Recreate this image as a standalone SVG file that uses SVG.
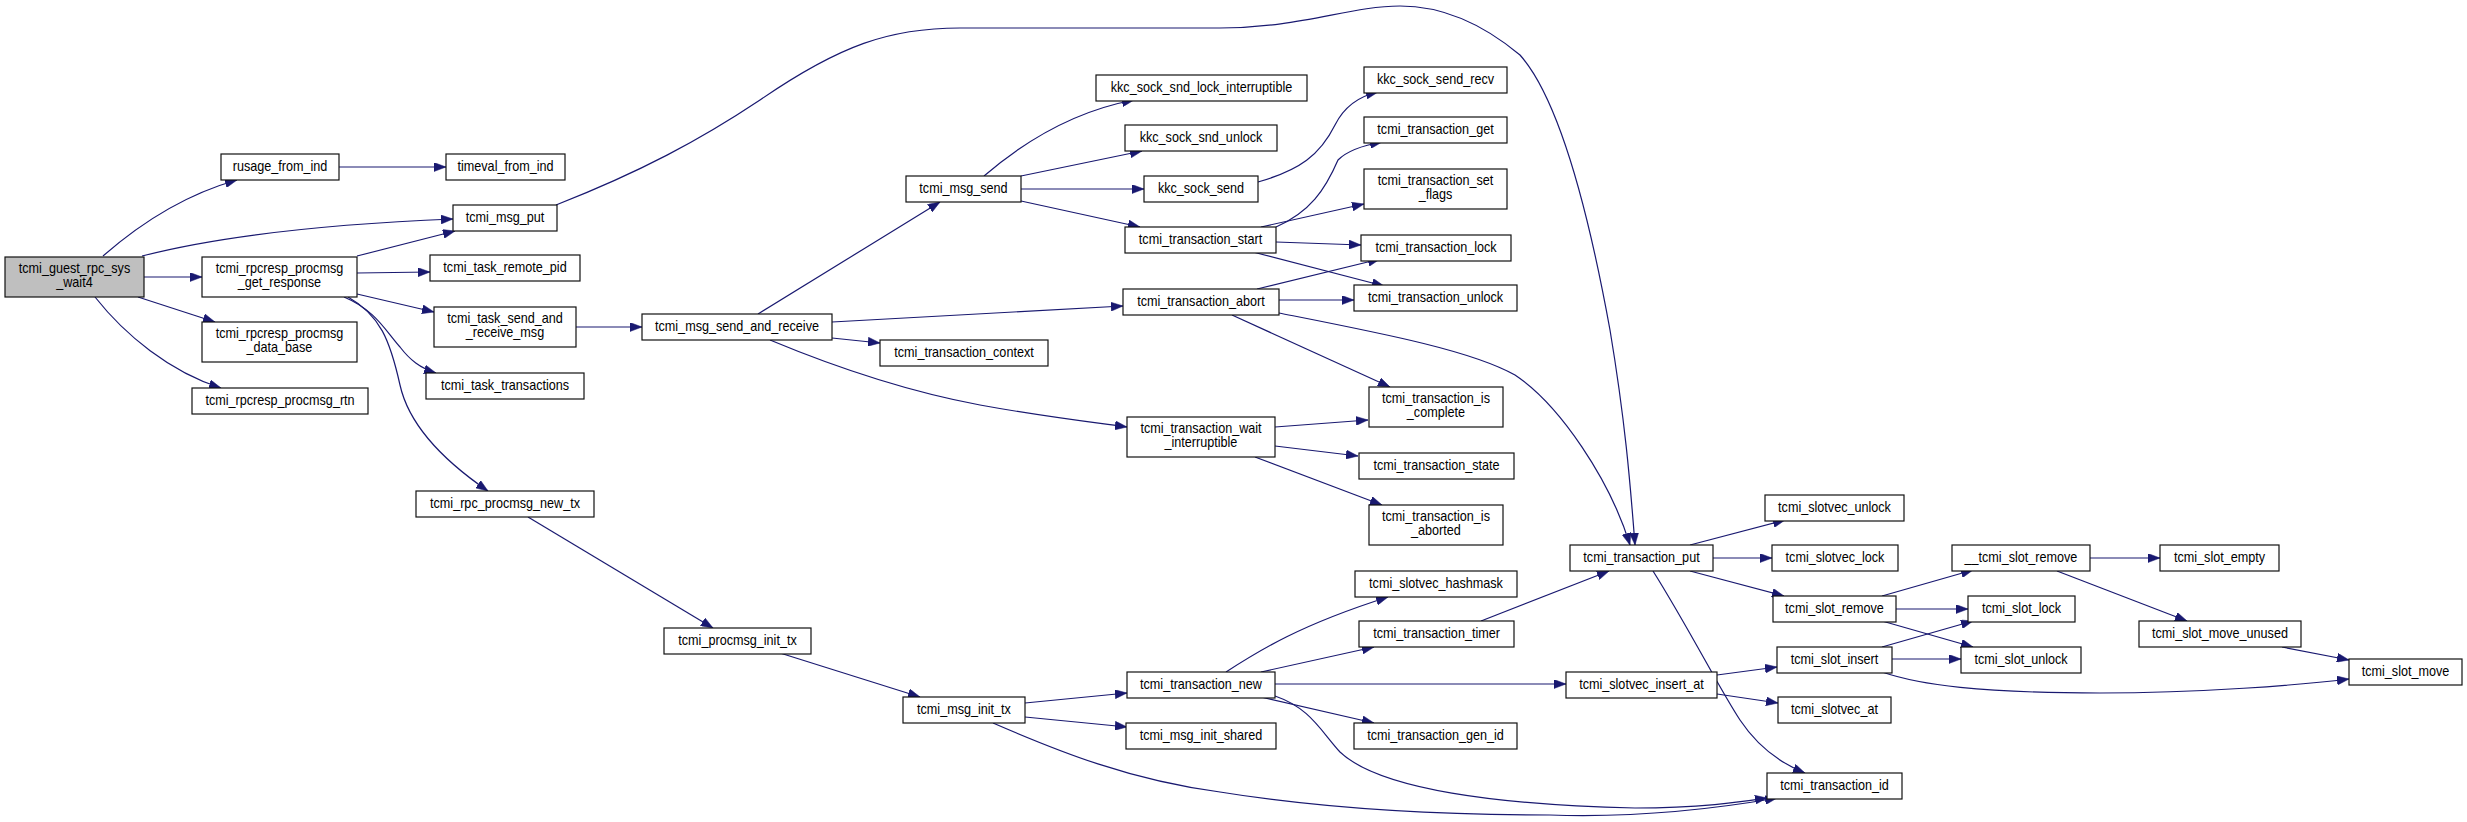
<svg xmlns="http://www.w3.org/2000/svg" width="2467" height="822" viewBox="0 0 2467 822">
<defs>
<style>
.n rect{fill:#fff;stroke:#111;stroke-width:1.2}
.m rect{fill:#bfbfbf}
text{font-family:"Liberation Sans",Arial,sans-serif;font-size:14.5px;text-anchor:middle;fill:#000;transform-box:fill-box;transform-origin:center;transform:scaleX(0.87)}
.e path{fill:none;stroke:#191970;stroke-width:1.2;marker-end:url(#a)}
</style>
<marker id="a" markerUnits="userSpaceOnUse" markerWidth="12" markerHeight="9" refX="12" refY="4.5" orient="auto"><path d="M0,0 L12,4.5 L0,9 z" fill="#191970" stroke="#191970" stroke-width="0.5"/></marker>
</defs>
<rect width="2467" height="822" fill="#fff"/>
<g id="edges" class="e">
<path d="M103,256 C135,228 180,196 237,180"/>
<path d="M339,167 L446,167"/>
<path d="M142,256 C220,236 330,224 453,219"/>
<path d="M144,277 L202,277"/>
<path d="M138,297 L215,322"/>
<path d="M95,297 C125,335 170,372 221,388"/>
<path d="M357,256 L455,231"/>
<path d="M357,273 L430,272"/>
<path d="M357,294 L434,312"/>
<path d="M344,297 C375,310 385,330 400,347 C410,360 420,368 436,373"/>
<path d="M348,297 C380,315 390,340 400,385 C410,430 450,465 488,491"/>
<path d="M556,205 C640,172 700,140 760,100 C840,45 890,28 960,28 L1220,28 C1300,28 1350,6 1400,6 C1450,6 1490,30 1520,55 C1560,100 1590,220 1610,330 C1625,420 1630,480 1635,545"/>
<path d="M576,327 L642,327"/>
<path d="M758,314 L940,202"/>
<path d="M832,322 L1123,306"/>
<path d="M832,338 L880,343"/>
<path d="M770,340 C830,365 900,390 980,405 C1040,416 1090,422 1127,427"/>
<path d="M984,176 C1020,145 1070,112 1134,100"/>
<path d="M1021,176 L1142,151"/>
<path d="M1021,189 L1144,189"/>
<path d="M1021,201 L1140,227"/>
<path d="M1258,182 C1300,170 1320,155 1335,125 C1345,105 1360,96 1378,92"/>
<path d="M1276,227 C1310,212 1325,190 1338,160 C1348,150 1365,145 1382,142"/>
<path d="M1261,227 L1364,204"/>
<path d="M1276,242 L1361,245"/>
<path d="M1253,252 L1384,286"/>
<path d="M1257,289 L1380,259"/>
<path d="M1279,300 L1354,300"/>
<path d="M1232,315 L1390,387"/>
<path d="M1279,313 C1380,333 1470,350 1515,375 C1560,405 1610,480 1630,545"/>
<path d="M1275,427 L1368,420"/>
<path d="M1275,446 L1358,456"/>
<path d="M1255,457 L1382,505"/>
<path d="M528,517 L713,628"/>
<path d="M780,653 L920,697"/>
<path d="M1025,703 L1127,693"/>
<path d="M1025,717 L1127,727"/>
<path d="M993,723 C1060,752 1130,780 1220,792 C1300,805 1400,815 1550,815 C1640,818 1720,808 1777,798"/>
<path d="M1226,672 C1260,650 1300,625 1388,597"/>
<path d="M1261,672 L1374,647"/>
<path d="M1275,684 L1566,684"/>
<path d="M1261,697 L1374,723"/>
<path d="M1275,696 C1310,708 1320,730 1340,752 C1380,790 1500,805 1635,808 C1700,808 1740,802 1767,798"/>
<path d="M1481,621 L1609,571"/>
<path d="M1690,545 L1785,520"/>
<path d="M1713,558 L1772,558"/>
<path d="M1690,571 L1784,596"/>
<path d="M1653,571 C1690,630 1720,690 1740,720 C1760,750 1785,765 1805,773"/>
<path d="M1717,675 L1777,667"/>
<path d="M1717,694 L1778,703"/>
<path d="M1882,596 L1973,570"/>
<path d="M1896,609 L1968,609"/>
<path d="M1882,621 L1973,647"/>
<path d="M1882,647 L1973,621"/>
<path d="M1892,659 L1961,659"/>
<path d="M1882,672 C1920,685 1980,693 2100,693 C2200,693 2300,685 2349,679"/>
<path d="M2090,558 L2160,558"/>
<path d="M2057,571 L2187,621"/>
<path d="M2282,647 L2349,660"/>
</g>
<g id="main" class="n m"><rect x="5" y="257" width="139" height="40"/><text x="74.5" y="273">tcmi_guest_rpc_sys</text><text x="74.5" y="287">_wait4</text></g>
<g id="rusage_from_ind" class="n"><rect x="221" y="154" width="118" height="26"/><text x="280" y="170.8">rusage_from_ind</text></g>
<g id="timeval_from_ind" class="n"><rect x="446" y="154" width="119" height="26"/><text x="505.5" y="170.8">timeval_from_ind</text></g>
<g id="tcmi_msg_put" class="n"><rect x="453" y="205" width="104" height="26"/><text x="505" y="221.8">tcmi_msg_put</text></g>
<g id="get_response" class="n"><rect x="202" y="257" width="155" height="40"/><text x="279.5" y="273">tcmi_rpcresp_procmsg</text><text x="279.5" y="287">_get_response</text></g>
<g id="tcmi_task_remote_pid" class="n"><rect x="430" y="255" width="150" height="26"/><text x="505" y="271.8">tcmi_task_remote_pid</text></g>
<g id="tcmi_task_send_and_receive_msg" class="n"><rect x="434" y="307" width="142" height="40"/><text x="505" y="323">tcmi_task_send_and</text><text x="505" y="337">_receive_msg</text></g>
<g id="data_base" class="n"><rect x="202" y="322" width="155" height="40"/><text x="279.5" y="338">tcmi_rpcresp_procmsg</text><text x="279.5" y="352">_data_base</text></g>
<g id="tcmi_task_transactions" class="n"><rect x="426" y="373" width="158" height="26"/><text x="505" y="389.8">tcmi_task_transactions</text></g>
<g id="rtn" class="n"><rect x="192" y="388" width="176" height="26"/><text x="280" y="404.8">tcmi_rpcresp_procmsg_rtn</text></g>
<g id="new_tx" class="n"><rect x="416" y="491" width="178" height="26"/><text x="505" y="507.8">tcmi_rpc_procmsg_new_tx</text></g>
<g id="msg_send_and_receive" class="n"><rect x="642" y="314" width="190" height="26"/><text x="737" y="330.8">tcmi_msg_send_and_receive</text></g>
<g id="procmsg_init_tx" class="n"><rect x="664" y="628" width="147" height="26"/><text x="737.5" y="644.8">tcmi_procmsg_init_tx</text></g>
<g id="msg_send" class="n"><rect x="906" y="176" width="115" height="26"/><text x="963.5" y="192.8">tcmi_msg_send</text></g>
<g id="transaction_context" class="n"><rect x="880" y="340" width="168" height="26"/><text x="964" y="356.8">tcmi_transaction_context</text></g>
<g id="msg_init_tx" class="n"><rect x="903" y="697" width="122" height="26"/><text x="964" y="713.8">tcmi_msg_init_tx</text></g>
<g id="lock_interruptible" class="n"><rect x="1096" y="75" width="211" height="26"/><text x="1201.5" y="91.8">kkc_sock_snd_lock_interruptible</text></g>
<g id="snd_unlock" class="n"><rect x="1125" y="125" width="152" height="26"/><text x="1201" y="141.8">kkc_sock_snd_unlock</text></g>
<g id="kkc_sock_send" class="n"><rect x="1144" y="176" width="114" height="26"/><text x="1201" y="192.8">kkc_sock_send</text></g>
<g id="transaction_start" class="n"><rect x="1125" y="227" width="151" height="26"/><text x="1200.5" y="243.8">tcmi_transaction_start</text></g>
<g id="transaction_abort" class="n"><rect x="1123" y="289" width="156" height="26"/><text x="1201" y="305.8">tcmi_transaction_abort</text></g>
<g id="wait_interruptible" class="n"><rect x="1127" y="417" width="148" height="40"/><text x="1201" y="433">tcmi_transaction_wait</text><text x="1201" y="447">_interruptible</text></g>
<g id="transaction_new" class="n"><rect x="1127" y="672" width="148" height="26"/><text x="1201" y="688.8">tcmi_transaction_new</text></g>
<g id="msg_init_shared" class="n"><rect x="1126" y="723" width="150" height="26"/><text x="1201" y="739.8">tcmi_msg_init_shared</text></g>
<g id="send_recv" class="n"><rect x="1364" y="67" width="143" height="26"/><text x="1435.5" y="83.8">kkc_sock_send_recv</text></g>
<g id="transaction_get" class="n"><rect x="1364" y="117" width="143" height="26"/><text x="1435.5" y="133.8">tcmi_transaction_get</text></g>
<g id="set_flags" class="n"><rect x="1364" y="169" width="143" height="40"/><text x="1435.5" y="185">tcmi_transaction_set</text><text x="1435.5" y="199">_flags</text></g>
<g id="transaction_lock" class="n"><rect x="1361" y="235" width="150" height="26"/><text x="1436" y="251.8">tcmi_transaction_lock</text></g>
<g id="transaction_unlock" class="n"><rect x="1354" y="285" width="163" height="26"/><text x="1435.5" y="301.8">tcmi_transaction_unlock</text></g>
<g id="is_complete" class="n"><rect x="1369" y="387" width="134" height="40"/><text x="1436" y="403">tcmi_transaction_is</text><text x="1436" y="417">_complete</text></g>
<g id="transaction_state" class="n"><rect x="1359" y="453" width="155" height="26"/><text x="1436.5" y="469.8">tcmi_transaction_state</text></g>
<g id="is_aborted" class="n"><rect x="1369" y="505" width="134" height="40"/><text x="1436" y="521">tcmi_transaction_is</text><text x="1436" y="535">_aborted</text></g>
<g id="hashmask" class="n"><rect x="1355" y="571" width="162" height="26"/><text x="1436" y="587.8">tcmi_slotvec_hashmask</text></g>
<g id="transaction_timer" class="n"><rect x="1359" y="621" width="155" height="26"/><text x="1436.5" y="637.8">tcmi_transaction_timer</text></g>
<g id="gen_id" class="n"><rect x="1354" y="723" width="163" height="26"/><text x="1435.5" y="739.8">tcmi_transaction_gen_id</text></g>
<g id="transaction_put" class="n"><rect x="1570" y="545" width="143" height="26"/><text x="1641.5" y="561.8">tcmi_transaction_put</text></g>
<g id="insert_at" class="n"><rect x="1566" y="672" width="151" height="26"/><text x="1641.5" y="688.8">tcmi_slotvec_insert_at</text></g>
<g id="slotvec_unlock" class="n"><rect x="1765" y="495" width="139" height="26"/><text x="1834.5" y="511.8">tcmi_slotvec_unlock</text></g>
<g id="slotvec_lock" class="n"><rect x="1772" y="545" width="126" height="26"/><text x="1835" y="561.8">tcmi_slotvec_lock</text></g>
<g id="slot_remove" class="n"><rect x="1773" y="596" width="123" height="26"/><text x="1834.5" y="612.8">tcmi_slot_remove</text></g>
<g id="slot_insert" class="n"><rect x="1777" y="647" width="115" height="26"/><text x="1834.5" y="663.8">tcmi_slot_insert</text></g>
<g id="slotvec_at" class="n"><rect x="1778" y="697" width="113" height="26"/><text x="1834.5" y="713.8">tcmi_slotvec_at</text></g>
<g id="transaction_id" class="n"><rect x="1767" y="773" width="135" height="26"/><text x="1834.5" y="789.8">tcmi_transaction_id</text></g>
<g id="__slot_remove" class="n"><rect x="1952" y="545" width="138" height="26"/><text x="2021" y="561.8">__tcmi_slot_remove</text></g>
<g id="slot_lock" class="n"><rect x="1968" y="596" width="107" height="26"/><text x="2021.5" y="612.8">tcmi_slot_lock</text></g>
<g id="slot_unlock" class="n"><rect x="1961" y="647" width="120" height="26"/><text x="2021" y="663.8">tcmi_slot_unlock</text></g>
<g id="slot_empty" class="n"><rect x="2160" y="545" width="119" height="26"/><text x="2219.5" y="561.8">tcmi_slot_empty</text></g>
<g id="slot_move_unused" class="n"><rect x="2139" y="621" width="162" height="26"/><text x="2220" y="637.8">tcmi_slot_move_unused</text></g>
<g id="slot_move" class="n"><rect x="2349" y="659" width="113" height="26"/><text x="2405.5" y="675.8">tcmi_slot_move</text></g>
</svg>
